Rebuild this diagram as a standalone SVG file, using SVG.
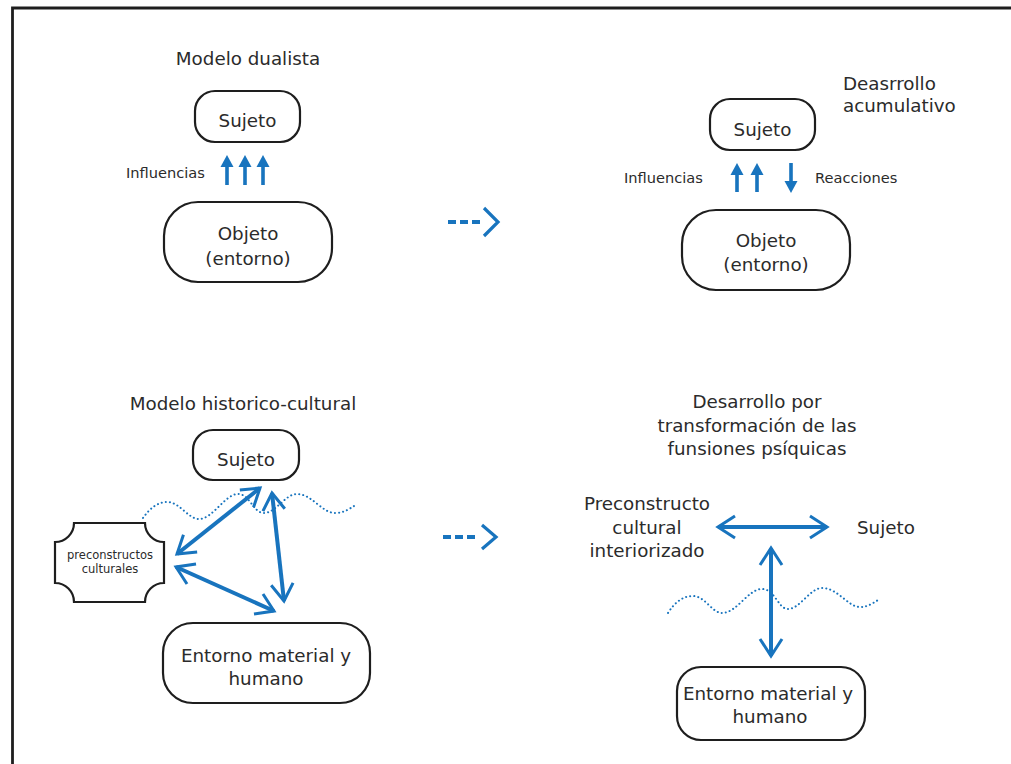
<svg xmlns="http://www.w3.org/2000/svg" width="1011" height="764" viewBox="0 0 1011 764">
<style>
text{font-family:"DejaVu Sans","Open Sans",sans-serif;fill:#2b2b2b;}
.big{font-size:18.3px;}
.mid{font-size:14.6px;}
.sm{font-size:11.5px;}
.c{text-anchor:middle;}
.box{fill:#fff;stroke:#1e1e1e;stroke-width:2.2;}
.blue{fill:#1874be;}
.thick{stroke:#1874be;stroke-width:4;fill:none;marker-start:url(#chev);marker-end:url(#chev);}
.dash{stroke:#1874be;stroke-width:4;stroke-dasharray:8 4;fill:none;}
.chv{stroke:#1874be;stroke-width:3.2;fill:none;}
.wave{stroke:#1874be;stroke-width:2;fill:none;stroke-dasharray:0.1 4;stroke-linecap:round;}
</style>
<defs>
<marker id="chev" markerUnits="userSpaceOnUse" viewBox="-22 -15 26 30" markerWidth="26" markerHeight="30" refX="0" refY="0" orient="auto-start-reverse">
<path d="M-17,-11 L0,0 L-17,11" fill="none" stroke="#1874be" stroke-width="3"/>
</marker>
</defs>
<g id="frame">
<path d="M12.5,764 V8 H1011" fill="none" stroke="#1e1e1e" stroke-width="2.8"/>
</g>
<g id="titles">
<text class="big c" x="248" y="65">Modelo dualista</text>
<text class="big" x="843" y="90">Deasrrollo</text>
<text class="big" x="843" y="112">acumulativo</text>
<text class="big c" x="243" y="410">Modelo historico-cultural</text>
<text class="big c" x="757" y="408">Desarrollo por</text>
<text class="big c" x="757" y="432">transformación de las</text>
<text class="big c" x="757" y="455">funsiones psíquicas</text>
</g>
<g id="dualista-sujeto">
<rect class="box" x="195" y="91" width="105" height="51" rx="20"/>
<text class="big c" x="247.5" y="127">Sujeto</text>
</g>
<g id="dualista-objeto">
<rect class="box" x="164" y="202" width="168" height="80" rx="34"/>
<text class="big c" x="248" y="240">Objeto</text>
<text class="big c" x="248" y="265">(entorno)</text>
</g>
<g id="acum-sujeto">
<rect class="box" x="710" y="99" width="105" height="51" rx="20"/>
<text class="big c" x="762.5" y="136">Sujeto</text>
</g>
<g id="acum-objeto">
<rect class="box" x="682" y="210" width="168" height="80" rx="34"/>
<text class="big c" x="766" y="247">Objeto</text>
<text class="big c" x="766" y="271">(entorno)</text>
</g>
<g id="hc-sujeto">
<rect class="box" x="193" y="430" width="106" height="50" rx="20"/>
<text class="big c" x="246" y="466">Sujeto</text>
</g>
<g id="hc-preconstructos">
<path class="box" d="M74,523 H145 A19,19 0 0 0 164,542 V583 A19,19 0 0 0 145,602 H74 A19,19 0 0 0 55,583 V542 A19,19 0 0 0 74,523 Z"/>
<text class="sm c" x="110" y="559">preconstructos</text>
<text class="sm c" x="110" y="573">culturales</text>
</g>
<g id="hc-entorno">
<rect class="box" x="163" y="623" width="207" height="80" rx="30"/>
<text class="big c" x="266" y="662">Entorno material y</text>
<text class="big c" x="266" y="685">humano</text>
</g>
<g id="tr-preconstructo">
<text class="big c" x="647" y="510">Preconstructo</text>
<text class="big c" x="647" y="534">cultural</text>
<text class="big c" x="647" y="557">interiorizado</text>
</g>
<g id="tr-sujeto">
<text class="big" x="857" y="534">Sujeto</text>
</g>
<g id="tr-entorno">
<rect class="box" x="677" y="667" width="188" height="73" rx="24"/>
<text class="big c" x="768" y="700">Entorno material y</text>
<text class="big c" x="770" y="723">humano</text>
</g>
<g id="labels">
<text class="mid" x="126" y="178">Influencias</text>
<text class="mid" x="624" y="183">Influencias</text>
<text class="mid" x="815" y="183">Reacciones</text>
</g>
<g id="connectors">
<g id="dualista-arrows" class="blue">
<rect x="225.2" y="165" width="3.6" height="20"/><path d="M227,155 L233.5,167 L220.5,167 Z"/>
<rect x="243.2" y="165" width="3.6" height="20"/><path d="M245,155 L251.5,167 L238.5,167 Z"/>
<rect x="261.2" y="165" width="3.6" height="20"/><path d="M263,155 L269.5,167 L256.5,167 Z"/>
</g>
<g id="acum-arrows" class="blue">
<rect x="735.2" y="173" width="3.6" height="19"/><path d="M737,163 L743.5,175 L730.5,175 Z"/>
<rect x="755.2" y="173" width="3.6" height="19"/><path d="M757,163 L763.5,175 L750.5,175 Z"/>
<rect x="789.2" y="163" width="3.6" height="19"/><path d="M791,193 L797.5,181 L784.5,181 Z"/>
</g>
<g id="dashed-arrows">
<path class="dash" d="M448,222 H482"/>
<path class="chv" d="M484,208 L498,222 L484,236"/>
<path class="dash" d="M443,537 H478"/>
<path class="chv" d="M482,525 L496,537 L482,549"/>
</g>
<path class="wave" d="M143,518 C150,508 158,502 167,502 C180,502 188,519 199,519 C213,519 225,494 238,494 C250,494 253,513 264,513 C276,513 285,494 297,494 C312,494 322,513 335,513 C344,513 349,509 354,506"/>
<path class="wave" d="M668,613 C675,602 683,596 693,596 C705,596 712,613 722,613 C737,613 748,589 762,589 C775,589 778,609 788,609 C800,609 810,588 822,588 C838,588 848,607 860,607 C868,607 873,603 878,600"/>
<path class="thick" d="M260,488 L177,554"/>
<path class="thick" d="M176,567 L274,611"/>
<path class="thick" d="M272,493 L284,601"/>
<path class="thick" d="M718,527 H827"/>
<path class="thick" d="M771,548 V656"/>
</g>
</svg>
